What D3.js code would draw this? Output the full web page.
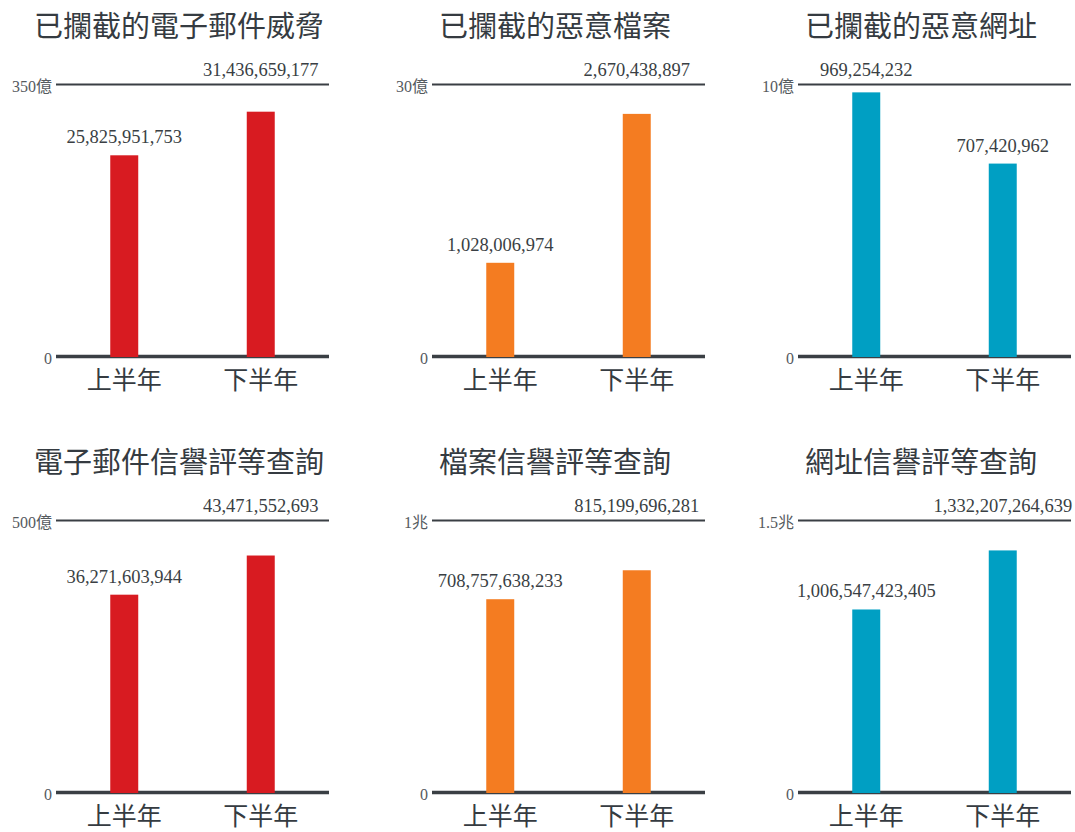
<!DOCTYPE html>
<html><head><meta charset="utf-8">
<script src="https://cdn.jsdelivr.net/npm/d3@7"></script>
<style>
html,body{margin:0;padding:0;background:#fff;}
svg{display:block;}
</style></head>
<body>
<svg id="chart" width="1075" height="832"></svg>
<script>
const categories = ["上半年", "下半年"];
const titles = ["已攔截的電子郵件威脅", "已攔截的惡意檔案", "已攔截的惡意網址",
                "電子郵件信譽評等查詢", "檔案信譽評等查詢", "網址信譽評等查詢"];
const firstHalf = [25825951753, 1028006974, 969254232, 36271603944, 708757638233, 1006547423405];
const secondHalf = [31436659177, 2670438897, 707420962, 43471552693, 815199696281, 1332207264639];
const axisMax = [35e9, 3e9, 1e9, 50e9, 1e12, 1.5e12];
const axisMaxLabels = ["350億", "30億", "10億", "500億", "1兆", "1.5兆"];
const axisMinLabels = ["0", "0", "0", "0", "0", "0"];

const colors = ["#d81b21", "#f47c21", "#009fc3"];
const panelLeft = [56, 432, 798];
const panelTop = [84, 520];
const W = 273, H = 272;
const fmt = d3.format(",.0f");
const svg = d3.select("#chart");

titles.forEach((title, i) => {
  const col = i % 3, row = Math.floor(i / 3);
  const g = svg.append("g").attr("transform", `translate(${panelLeft[col]},${panelTop[row]})`);
  const vals = [firstHalf[i], secondHalf[i]];
  const data = categories.map((c, k) => ({cat: c, v: vals[k]}));
  const vmax = d3.max(vals);

  const x = d3.scaleBand().domain(categories).range([0, W]).paddingInner(0.795).paddingOuter(0.3975);
  const y = d3.scaleLinear().domain([0, axisMax[i]]).range([H, 0]);

  // title
  g.append("text")
    .attr("x", 123).attr("y", -47)
    .attr("text-anchor", "middle")
    .style("font-family", "'Noto Sans CJK TC','Noto Sans',sans-serif")
    .style("font-size", "29px")
    .style("fill", "#353b41")
    .text(title);

  // y axis with grid lines
  const yAxis = d3.axisLeft(y).tickValues([0, axisMax[i]]).tickSize(-W).tickPadding(4)
    .tickFormat(d => d === 0 ? axisMinLabels[i] : axisMaxLabels[i]);
  const ya = g.append("g").call(yAxis);
  ya.select(".domain").remove();
  ya.selectAll(".tick line").attr("stroke", "#3a3f44")
    .attr("stroke-width", d => d === 0 ? 3.5 : 2.2);
  ya.selectAll(".tick text")
    .attr("dy", "0.45em")
    .style("font-family", "'Liberation Serif','Noto Sans CJK TC',serif")
    .style("font-size", "16px")
    .style("fill", "#555a5e");

  // bars
  g.selectAll("rect.bar").data(data).enter().append("rect")
    .attr("class", "bar")
    .attr("x", d => x(d.cat))
    .attr("width", x.bandwidth())
    .attr("y", d => y(d.v))
    .attr("height", d => y(0) - y(d.v) + 1)
    .attr("fill", colors[col]);

  // value labels
  g.selectAll("text.val").data(data).enter().append("text")
    .attr("class", "val")
    .attr("x", d => x(d.cat) + x.bandwidth() / 2)
    .attr("y", d => d.v === vmax ? y(axisMax[i]) - 8 : y(d.v) - 12)
    .attr("text-anchor", "middle")
    .style("font-family", "'Liberation Serif',serif")
    .style("font-size", "18.5px")
    .style("fill", "#3a3f44")
    .text(d => fmt(d.v));

  // category axis
  const xa = g.append("g").attr("transform", `translate(0,${H})`)
    .call(d3.axisBottom(x).tickSize(0).tickPadding(15));
  xa.select(".domain").remove();
  xa.selectAll(".tick text")
    .style("font-family", "'Noto Sans CJK TC','Noto Sans',sans-serif")
    .style("font-size", "25px")
    .style("fill", "#353b41");
});
</script>
</body></html>
